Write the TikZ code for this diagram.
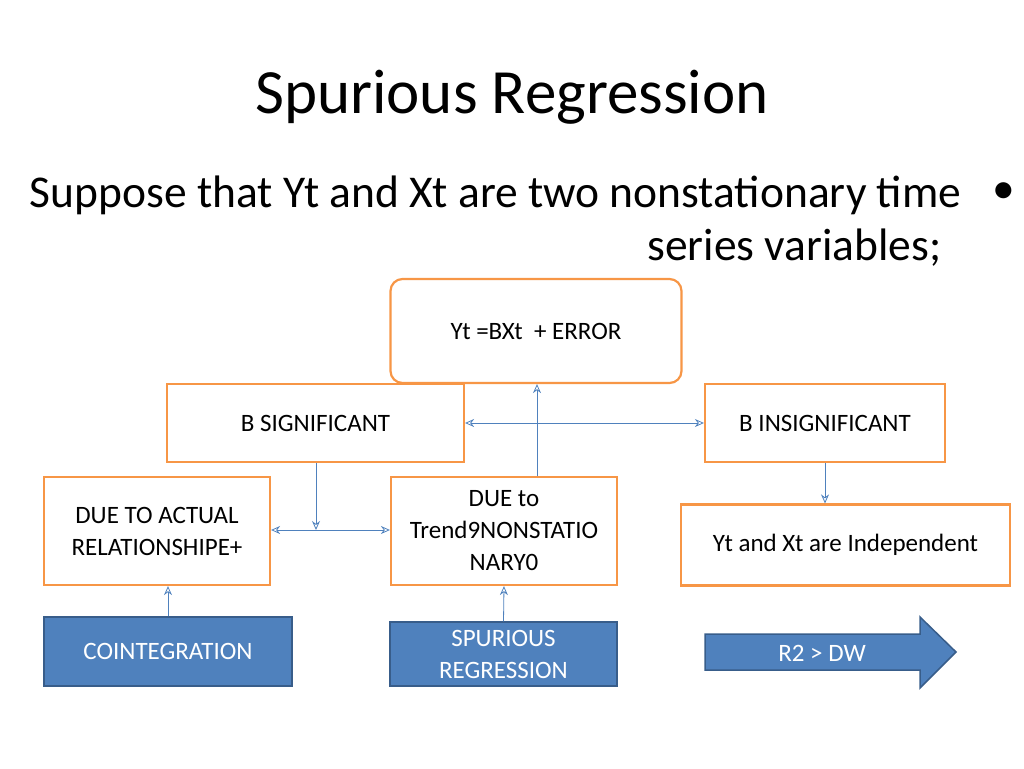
\documentclass[tikz,border=0pt]{standalone}
\usepackage{fontspec}
\setmainfont{Carlito}
\usetikzlibrary{arrows.meta}
\definecolor{org}{RGB}{247,150,70}
\definecolor{bl}{RGB}{79,129,189}
\definecolor{bld}{RGB}{56,93,138}
\tikzset{
 obox/.style={draw=org,line width=2.2pt,fill=white,align=center,font=\fontsize{25}{32}\selectfont},
 bbox/.style={draw=bld,line width=1.5pt,fill=bl,text=white,align=center,font=\fontsize{25}{32}\selectfont},
 con/.style={draw=bl,line width=0.8pt,-{Stealth[length=9pt,width=8pt,open]}},
 con2/.style={draw=bl,line width=0.8pt,{Stealth[length=9pt,width=8pt,open]}-{Stealth[length=9pt,width=8pt,open]}}
}
\begin{document}
\begin{tikzpicture}[x=1pt,y=-1pt]
\useasboundingbox (0,0) rectangle (1024,768);
\node (title) at (512,97) {\fontsize{63}{70}\selectfont Spurious Regression};
\node[anchor=east] (l1) at (965,195) {\fontsize{45.5}{52}\selectfont Suppose that Yt and Xt are two nonstationary time};
\node[anchor=east] (l2) at (945,248) {\fontsize{45.5}{52}\selectfont series variables;};
\node (bul) at (1004,193) {\fontsize{45.5}{52}\selectfont •};
\node[obox,rounded corners=12pt,minimum width=291pt,minimum height=104pt] (eq) at (536,331) {Yt =BXt\ \ + ERROR};
\node[obox,minimum width=297pt,minimum height=78pt] (bs) at (315.5,423) {B SIGNIFICANT};
\node[obox,minimum width=240pt,minimum height=78pt] (bi) at (825,423) {B INSIGNIFICANT};
\node[obox,minimum width=226pt,minimum height=108pt] (da) at (157,531) {DUE TO ACTUAL\\RELATIONSHIPE+};
\node[obox,minimum width=226pt,minimum height=108pt] (dt) at (504,531) {DUE to\\Trend9NONSTATIO\\NARY0};
\node[obox,minimum width=329pt,minimum height=81pt] (ind) at (845.5,545) {Yt and Xt are Independent};
\node[bbox,minimum width=248pt,minimum height=69pt] (co) at (168,651.5) {COINTEGRATION};
\node[bbox,minimum width=227pt,minimum height=64pt] (sp) at (503.5,654) {SPURIOUS\\REGRESSION};
\path[fill=bl,draw=bld,line width=1.5pt] (705,634)--(920,634)--(920,617)--(956,652)--(920,688)--(920,670)--(705,670)--cycle;
\node[text=white,font=\fontsize{25}{32}\selectfont] (r2) at (822,653) {R2 > DW};
\coordinate (c1) at (537,476);
\draw[con] (c1) -- (eq.south -| c1);
\draw[con2] (bs.east) -- (bi.west);
\coordinate (c2) at (316,530);
\draw[con] (bs.south -| c2) -- (c2);
\draw[con2] (da.east |- c2) -- (dt.west |- c2);
\draw[con] (bi.south) -- (ind.north -| bi.south);
\draw[con] (co.north) -- (da.south -| co.north);
\draw[con] (sp.north) -- (dt.south);
\end{tikzpicture}
\end{document}
